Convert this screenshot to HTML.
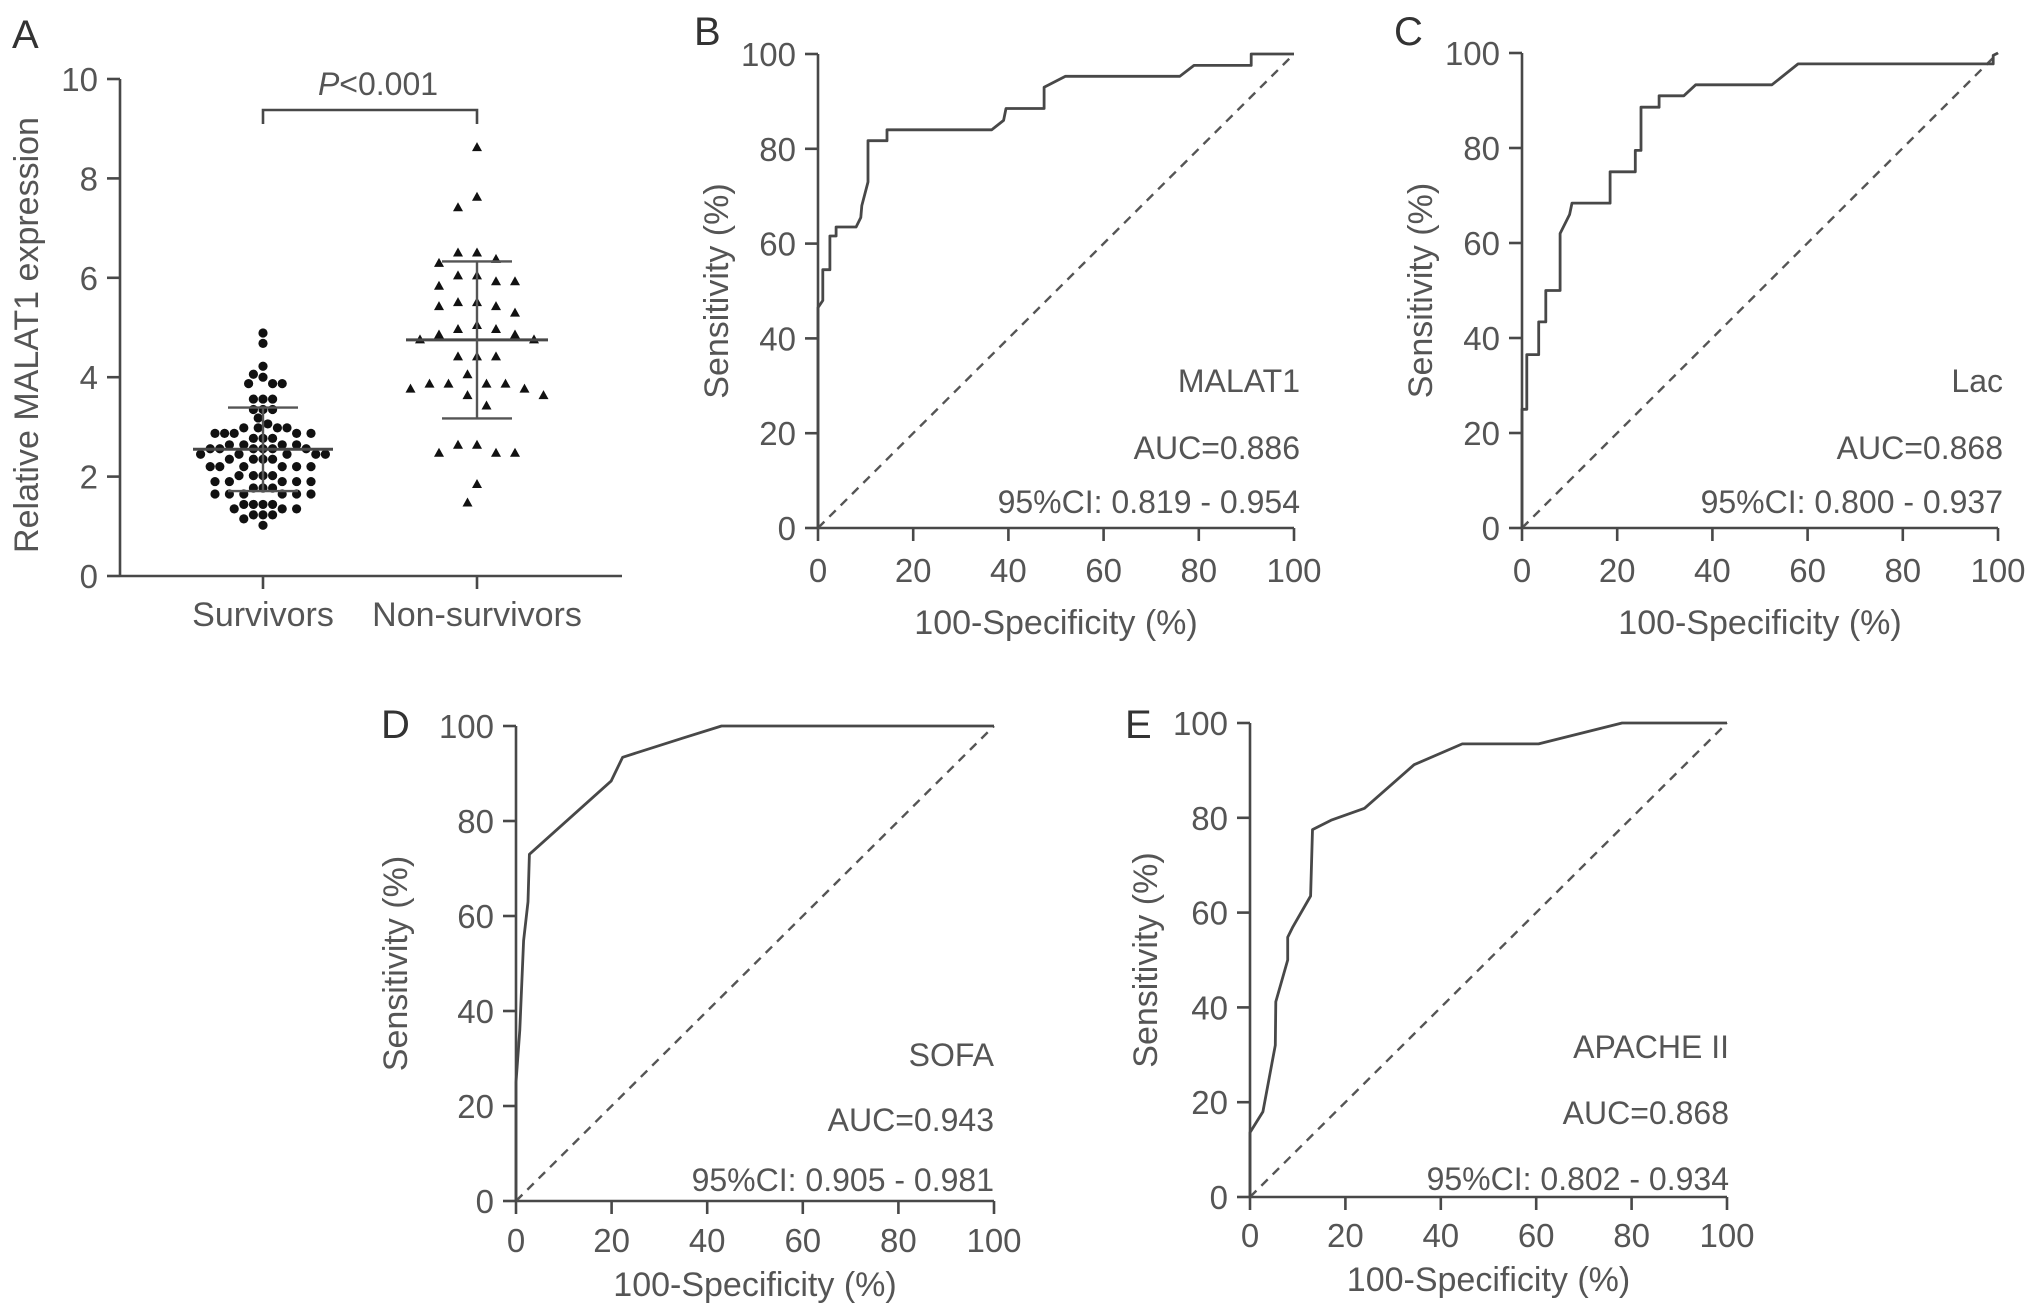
<!DOCTYPE html>
<html><head><meta charset="utf-8"><style>
html,body{margin:0;padding:0;background:#fff;}
svg{display:block;font-family:"Liberation Sans",sans-serif;}
text{fill:#555;}
</style></head><body>
<svg id="fig" width="2032" height="1313" viewBox="0 0 2032 1313" xmlns="http://www.w3.org/2000/svg"></svg>
<script>
// Panel A data
const groupNames = ["Survivors", "Non-survivors"];
const survivorValues = [4.89,4.68,4.22,4.06,4.0,3.87,3.87,3.87,3.56,3.56,3.56,3.35,3.35,3.35,3.18,3.06,2.98,2.98,2.98,2.98,2.87,2.87,2.87,2.87,2.87,2.77,2.77,2.77,2.64,2.64,2.64,2.64,2.56,2.56,2.56,2.56,2.56,2.56,2.45,2.45,2.45,2.45,2.45,2.35,2.35,2.35,2.35,2.2,2.2,2.2,2.2,2.2,2.2,2.02,2.02,2.02,2.02,1.9,1.9,1.9,1.9,1.9,1.77,1.77,1.77,1.65,1.65,1.65,1.65,1.65,1.65,1.44,1.44,1.44,1.44,1.35,1.35,1.35,1.23,1.23,1.23,1.15,1.02];
const nonSurvivorValues = [8.63,7.63,7.42,6.51,6.51,6.38,6.3,6.05,6.05,5.93,5.93,5.84,5.51,5.51,5.43,5.43,5.3,5.05,4.97,4.97,4.86,4.86,4.76,4.76,4.42,4.42,4.42,4.06,3.87,3.87,3.87,3.87,3.77,3.77,3.64,3.64,3.43,2.64,2.64,2.48,2.48,2.48,1.85,1.48];
const groupMeans = [2.55, 4.75];
const groupSD = [0.84, 1.58];
const yTicksA = [0,2,4,6,8,10];
// ROC data
const rocTicks = [0,20,40,60,80,100];
const rocB_fpr = [0,0,1,1,2.5,2.5,3.8,3.8,8,9,9.2,10.5,10.5,14.5,14.5,36.5,39,39.5,47.5,47.5,52,76,79,91,91,100];
const rocB_tpr = [0,46.5,48,54.5,54.5,61.6,61.6,63.5,63.5,65.5,68,73,81.7,81.7,84,84,86,88.5,88.5,93,95.3,95.3,97.6,97.6,100,100];
const rocC_fpr = [0,0,1,1,3.5,3.5,5,5,8,8,10,10.5,18.5,18.5,23.8,23.8,25,25,28.8,28.8,34,36.5,52.5,58,99,99,100];
const rocC_tpr = [0,25,25,36.5,36.5,43.4,43.4,50,50,62,66,68.4,68.4,75,75,79.5,79.5,88.6,88.6,91,91,93.3,93.3,97.7,97.7,99.5,100];
const rocD_fpr = [0,0,0.8,1.6,2.5,2.8,19.9,22.3,35,43,100];
const rocD_tpr = [0,25,36,54.8,63,73,88.4,93.4,97.5,100,100];
const rocE_fpr = [0,0,2.7,5.3,5.4,7.9,7.9,9,12.7,13.1,17,24,34.4,44.5,60.5,78,100];
const rocE_tpr = [0,13.6,18,32,41.2,50,54.8,57,63.5,77.5,79.5,82,91.2,95.6,95.6,100,100];

const NS = "http://www.w3.org/2000/svg";
const svg = document.getElementById("fig");
const AX = "#484848";
const TICK_FS = 33, TITLE_FS = 34, ANN_FS = 32;
function mk(tag, attrs, parent, name, txt){
  const el = document.createElementNS(NS, tag);
  for (const k in attrs) el.setAttribute(k, attrs[k]);
  
  
  if (txt !== undefined) el.textContent = txt;
  (parent || svg).appendChild(el);
  return el;
}
function line(g,x1,y1,x2,y2,name,extra){
  const a = {x1:x1,y1:y1,x2:x2,y2:y2,stroke:AX,"stroke-width":2.6};
  if (extra) Object.assign(a, extra);
  return mk("line", a, g, name);
}

// ---------- Panel A ----------
(function(){
  const g = mk("g", {}, svg, "panel-a");
  const xL = 120, xR = 622, y0 = 576, y10 = 79;
  const yS = v => y0 - (v/10)*(y0-y10);
  const cx = [263, 477];
  mk("text",{x:12,y:48,"font-size":40,style:"fill:#333"},g,"panel-label-a","A");
  line(g,xL,y10,xL,y0,"y-axis");
  line(g,xL,y0,xR,y0,"x-axis");
  yTicksA.forEach(t=>{
    line(g,xL-13,yS(t),xL,yS(t),"y-tick");
    mk("text",{x:xL-22,y:yS(t)+12,"font-size":TICK_FS,"text-anchor":"end"},g,"y-tick-label",String(t));
  });
  groupNames.forEach((n,i)=>{
    line(g,cx[i],y0,cx[i],y0+13,"x-tick");
    mk("text",{x:cx[i],y:626,"font-size":TITLE_FS,"text-anchor":"middle"},g,"category-label",n);
  });
  mk("text",{x:38,y:335,"font-size":TITLE_FS,"text-anchor":"middle",transform:"rotate(-90 38 335)"},g,"y-axis-title","Relative MALAT1 expression");
  mk("path",{d:`M${cx[0]} 124 V110 H${cx[1]} V124`,fill:"none",stroke:AX,"stroke-width":2.6},g,"significance-bracket");
  const pt = mk("text",{x:378,y:95,"font-size":ANN_FS,"text-anchor":"middle"},g,"p-value-label");
  const it = document.createElementNS(NS,"tspan"); it.setAttribute("font-style","italic"); it.textContent="P"; pt.appendChild(it);
  pt.appendChild(document.createTextNode("<0.001"));

  function swarm(vals, d){
    const placed = [];
    const sorted = vals.map((v,i)=>({v:v,i:i})).sort((a,b)=>b.v-a.v);
    const out = new Array(vals.length);
    sorted.forEach(p=>{
      const y = yS(p.v);
      for (let k=0;k<80;k++){
        const off = (k%2===0?1:-1)*Math.ceil(k/2)*d/2;
        if (placed.every(q=>Math.hypot(q.x-off,q.y-y)>=d)) { placed.push({x:off,y:y}); out[p.i]=off; break; }
      }
    });
    return out;
  }
  const offS = swarm(survivorValues, 9.6);
  survivorValues.forEach((v,i)=>{
    mk("circle",{cx:cx[0]+offS[i],cy:yS(v),r:4.6,fill:"#111"},g,"survivor-point");
  });
  const offN = swarm(nonSurvivorValues, 19);
  nonSurvivorValues.forEach((v,i)=>{
    const x = cx[1]+offN[i], y = yS(v);
    mk("path",{d:`M${x} ${y-5} L${x+5} ${y+4} L${x-5} ${y+4} Z`,fill:"#111"},g,"non-survivor-point");
  });
  const halfMean = [70, 71], halfCap = [35, 35];
  groupMeans.forEach((m,i)=>{
    line(g,cx[i]-halfMean[i],yS(m),cx[i]+halfMean[i],yS(m),"mean-line",{"stroke-width":3});
    line(g,cx[i],yS(m-groupSD[i]),cx[i],yS(m+groupSD[i]),"sd-bar",{"stroke-width":2.4,stroke:"#555"});
    line(g,cx[i]-halfCap[i],yS(m+groupSD[i]),cx[i]+halfCap[i],yS(m+groupSD[i]),"sd-cap-upper",{"stroke-width":2.4,stroke:"#555"});
    line(g,cx[i]-halfCap[i],yS(m-groupSD[i]),cx[i]+halfCap[i],yS(m-groupSD[i]),"sd-cap-lower",{"stroke-width":2.4,stroke:"#555"});
  });
})();

// ---------- ROC panels ----------
function roc(cfg, fpr, tpr){
  const g = mk("g", {}, svg, cfg.name);
  const X = v => cfg.x0 + v/100*(cfg.x1-cfg.x0);
  const Y = v => cfg.y0 - v/100*(cfg.y0-cfg.y1);
  mk("text",{x:cfg.lx,y:cfg.ly,"font-size":40,style:"fill:#333"},g,"panel-label",cfg.letter);
  line(g,cfg.x0,Y(100),cfg.x0,cfg.y0,"y-axis");
  line(g,cfg.x0,cfg.y0,X(100),cfg.y0,"x-axis");
  rocTicks.forEach(t=>{
    line(g,cfg.x0-13,Y(t),cfg.x0,Y(t),"y-tick");
    mk("text",{x:cfg.x0-22,y:Y(t)+12,"font-size":TICK_FS,"text-anchor":"end"},g,"y-tick-label",String(t));
    line(g,X(t),cfg.y0,X(t),cfg.y0+13,"x-tick");
    mk("text",{x:X(t),y:cfg.tb,"font-size":TICK_FS,"text-anchor":"middle"},g,"x-tick-label",String(t));
  });
  mk("text",{x:(cfg.x0+X(100))/2,y:cfg.xtb,"font-size":TITLE_FS,"text-anchor":"middle"},g,"x-axis-title","100-Specificity (%)");
  const yc = (cfg.y0+Y(100))/2;
  mk("text",{x:cfg.ytx,y:yc,"font-size":TITLE_FS,"text-anchor":"middle",transform:`rotate(-90 ${cfg.ytx} ${yc})`},g,"y-axis-title","Sensitivity (%)");
  line(g,X(0),Y(0),X(100),Y(100),"reference-diagonal",{"stroke-width":2.4,"stroke-dasharray":"9 7",stroke:"#555"});
  const d = fpr.map((f,i)=>(i?"L":"M")+X(f).toFixed(1)+" "+Y(tpr[i]).toFixed(1)).join(" ");
  mk("path",{d:d,fill:"none",stroke:AX,"stroke-width":2.8,"stroke-linejoin":"round"},g,"roc-curve");
  mk("text",{x:cfg.tr,y:cfg.ab[0],"font-size":ANN_FS,"text-anchor":"end"},g,"marker-name",cfg.marker);
  mk("text",{x:cfg.tr,y:cfg.ab[1],"font-size":ANN_FS,"text-anchor":"end"},g,"auc-label",cfg.auc);
  mk("text",{x:cfg.tr,y:cfg.ab[2],"font-size":ANN_FS,"text-anchor":"end"},g,"ci-label",cfg.ci);
}
roc({name:"panel-b",letter:"B",lx:694,ly:45,x0:818,x1:1294,y0:528,y1:54,tb:582,xtb:634,ytx:728,tr:1300,ab:[392,459,513],marker:"MALAT1",auc:"AUC=0.886",ci:"95%CI: 0.819 - 0.954"}, rocB_fpr, rocB_tpr);
roc({name:"panel-c",letter:"C",lx:1394,ly:45,x0:1522,x1:1998,y0:528,y1:53,tb:582,xtb:634,ytx:1432,tr:2003,ab:[392,459,513],marker:"Lac",auc:"AUC=0.868",ci:"95%CI: 0.800 - 0.937"}, rocC_fpr, rocC_tpr);
roc({name:"panel-d",letter:"D",lx:381,ly:738,x0:516,x1:994,y0:1201,y1:726,tb:1252,xtb:1296,ytx:407,tr:994,ab:[1066,1131,1191],marker:"SOFA",auc:"AUC=0.943",ci:"95%CI: 0.905 - 0.981"}, rocD_fpr, rocD_tpr);
roc({name:"panel-e",letter:"E",lx:1125,ly:738,x0:1250,x1:1727,y0:1197,y1:723,tb:1247,xtb:1291,ytx:1157,tr:1729,ab:[1058,1124,1190],marker:"APACHE II",auc:"AUC=0.868",ci:"95%CI: 0.802 - 0.934"}, rocE_fpr, rocE_tpr);
</script>
</body></html>
